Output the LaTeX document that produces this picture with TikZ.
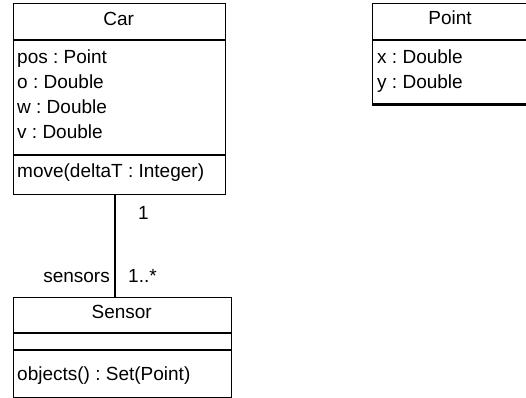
\documentclass[tikz,border=0pt]{standalone}
\usepackage{fontspec}
\setmainfont{Liberation Sans}
\frenchspacing
\begin{document}
\begin{tikzpicture}[x=1pt,y=-1pt,
  classbox/.style={draw=black, line width=1.3pt, rectangle, inner sep=0pt,
    anchor=north west, fill=white},
  compsep/.style={line width=2.8pt},
  member/.style={inner sep=0pt, anchor=base west, font=\fontsize{19}{23}\selectfont\frenchspacing},
  title/.style={inner sep=0pt, anchor=base, font=\fontsize{19}{23}\selectfont},
  mult/.style={inner sep=0pt, font=\fontsize{19}{23}\selectfont},
  assoc/.style={line width=1.3pt}]
\useasboundingbox (0,0) rectangle (526,397);
\clip (0,0) rectangle (526,397);

% class Car
\node[classbox, minimum width=212.5pt, minimum height=191pt] (car) at (12.5,3) {};
\draw[compsep] (car.west |- 0,40) -- (car.east |- 0,40);
\draw[compsep] (car.west |- 0,155) -- (car.east |- 0,155);
\node[title]  (carname) at (118.7,25.5) {Car};
\node[member] (carpos) at (17,63)  {pos : Point};
\node[member] (caro)   at (17,88)  {o : Double};
\node[member] (carw)   at (17,113) {w : Double};
\node[member] (carv)   at (17,138) {v : Double};
\node[member] (carmove) at (17,177) {move(deltaT : Integer)};

% class Point
\node[classbox, minimum width=156pt, minimum height=100pt] (point) at (372,3) {};
\draw[compsep] (point.west |- 0,40) -- (point.east |- 0,40);
\draw[compsep] (point.south west) -- (point.south east);
\node[title]  (pointname) at (450,24) {Point};
\node[member] (pointx) at (377,63) {x : Double};
\node[member] (pointy) at (377,88) {y : Double};

% class Sensor
\node[classbox, minimum width=218.5pt, minimum height=99.5pt] (sensor) at (12.5,297) {};
\draw[compsep] (sensor.west |- 0,333) -- (sensor.east |- 0,333);
\draw[compsep] (sensor.west |- 0,350) -- (sensor.east |- 0,350);
\node[title]  (sensorname) at (121.7,318) {Sensor};
\node[member] (sensorobj) at (17,380) {objects() : Set(Point)};

% association Car -- Sensor
\coordinate (assocx) at (115,0);
\draw[assoc] (assocx |- car.south) -- (assocx |- sensor.north);
\node[mult, anchor=base west] (multcar) at (138,219) {1};
\node[mult, anchor=base west] (multsensor) at (128,282) {1..*};
\node[mult, anchor=base east] (rolesensor) at (110,282) {sensors};
\end{tikzpicture}
\end{document}
